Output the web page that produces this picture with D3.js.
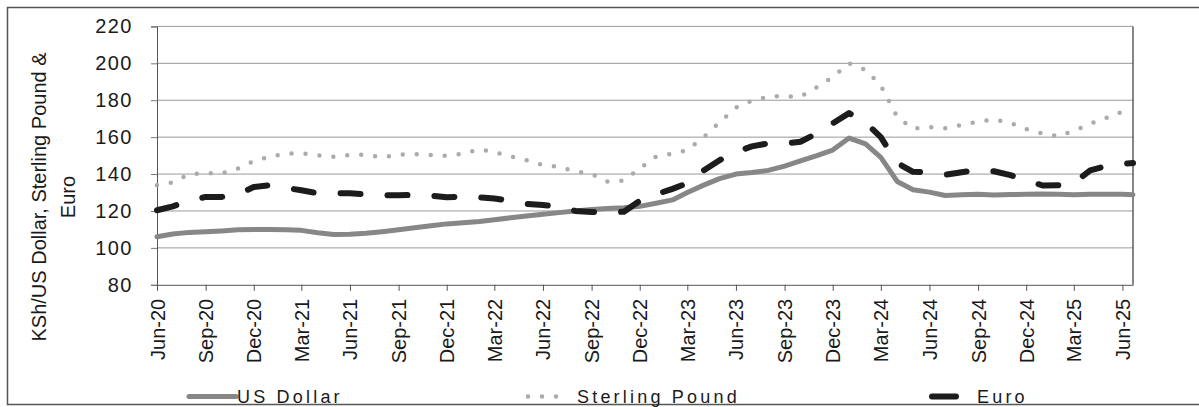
<!DOCTYPE html>
<html>
<head>
<meta charset="utf-8">
<script src="https://cdn.jsdelivr.net/npm/d3@7"></script>
<style>
  body { margin: 0; background: #fff; }
  svg { display: block; font-family: "Liberation Sans", Arial, sans-serif; }
</style>
</head>
<body>
<svg id="chart"></svg>
<script>
// monthly values, Jun-20 .. Jun-25, plus the last reading at the right edge
var usDollar = [106, 107.5, 108.4, 108.8, 109.2, 109.8, 110, 110, 109.8, 109.5,
  108.2, 107.3, 107.4, 107.9, 108.8, 109.8, 110.9, 112, 113, 113.6,
  114.3, 115.3, 116.3, 117.3, 118.2, 119.1, 120, 120.8, 121.3, 121.8,
  122.5, 124.2, 126, 130, 134, 137.5, 140, 140.8, 142, 144.3,
  147.2, 150, 153, 159.5, 156.3, 149, 136, 131.5, 130.2, 128.4,
  128.8, 129, 128.7, 128.9, 129, 129.2, 129, 128.8, 129.1, 129, 129, 128.8];

var sterling = [134, 135.5, 140, 140.5, 140.4, 143, 147, 149.5, 151, 151.3,
  150.2, 149.3, 150.4, 150.5, 149, 150.5, 150.8, 150.3, 149.9, 151,
  153.4, 152, 149.5, 147.5, 144.8, 144, 141.5, 140, 136, 136.5,
  143, 149.5, 151, 153, 160, 168, 176, 179.7, 182, 182.2,
  181.9, 187, 192.5, 200, 196.5, 188, 171, 164.5, 165.5, 164.8,
  166.6, 168.3, 169.6, 167.7, 164.3, 162, 160.5, 163.5, 167.2, 170.4, 173.8, 175];

var euro = [120.4, 122.5, 125.5, 127.6, 127.6, 129, 133, 134, 132.5, 131.2,
  129.6, 129.6, 129.6, 129, 128.5, 128.5, 128.7, 128.3, 127.4, 127.8,
  127.4, 126.8, 125.5, 123.8, 123.2, 122.5, 120, 119.5, 119.3, 119.6,
  125.5, 129, 132, 135, 142, 147.5, 152, 155, 156.6, 156.6,
  157.5, 162, 167.5, 173, 168, 160, 146, 141.2, 141, 139.6,
  141, 142.4, 141.5, 139.4, 136.6, 133.8, 134, 135.2, 142, 144.3, 145.5, 146];

var yTicks = [80, 100, 120, 140, 160, 180, 200, 220];

var dates = d3.timeMonth.range(new Date(2020, 5, 1), new Date(2025, 6, 1));
var tickDates = dates.filter((d, i) => i % 3 === 0);
dates.push(new Date(2025, 5, 21));

var series = [
  {name: "US Dollar", values: usDollar},
  {name: "Sterling Pound", values: sterling},
  {name: "Euro", values: euro}
];

var width = 1199, height = 407;
var plotLeft = 157, plotRight = 1133, plotTop = 26.4, plotBottom = 284.8;

var svg = d3.select("#chart").attr("width", width).attr("height", height);

var xScale = d3.scaleTime()
    .domain([dates[0], dates[dates.length - 1]])
    .range([plotLeft, plotRight]);

var yScale = d3.scaleLinear()
    .domain([80, 220])
    .range([plotBottom, plotTop]);

// outer frame
svg.append("rect")
    .attr("x", 7.5).attr("y", 7.5)
    .attr("width", 1200).attr("height", 397)
    .attr("fill", "none")
    .attr("stroke", "#555")
    .attr("stroke-width", 1.5);

// gridlines
svg.append("g")
    .selectAll("line")
    .data(yTicks.slice(1))
    .enter().append("line")
    .attr("x1", plotLeft).attr("x2", plotRight)
    .attr("y1", d => yScale(d)).attr("y2", d => yScale(d))
    .attr("stroke", "#999")
    .attr("stroke-width", 1);

// right border of plot
svg.append("line")
    .attr("x1", plotRight).attr("x2", plotRight)
    .attr("y1", plotTop).attr("y2", plotBottom)
    .attr("stroke", "#444").attr("stroke-width", 1.3);

// y axis
var yAxis = d3.axisLeft(yScale).tickValues(yTicks).tickSize(6).tickPadding(18);
var gy = svg.append("g")
    .attr("transform", `translate(${plotLeft},0)`)
    .call(yAxis);
gy.select(".domain").attr("stroke", "#555");
gy.selectAll(".tick line").attr("stroke", "#777");
gy.selectAll("text")
    .attr("fill", "#1a1a1a")
    .style("font-size", "20px")
    .style("letter-spacing", "1.5px");

// x axis
var xAxis = d3.axisBottom(xScale)
    .tickValues(tickDates)
    .tickFormat(d3.timeFormat("%b-%y"))
    .tickSize(6)
    .tickSizeOuter(0);
var gx = svg.append("g")
    .attr("transform", `translate(0,${plotBottom})`)
    .call(xAxis);
gx.select(".domain").attr("stroke", "#555");
gx.selectAll(".tick line").attr("stroke", "#555");
gx.selectAll("text")
    .attr("fill", "#1a1a1a")
    .style("font-size", "20px")
    .attr("transform", "rotate(-90)")
    .attr("text-anchor", "end")
    .attr("x", -14)
    .attr("y", 0)
    .attr("dy", "0.35em");

// y axis title
var yTitle = svg.append("text")
    .attr("transform", "translate(0,197) rotate(-90)")
    .attr("text-anchor", "middle")
    .attr("fill", "#1a1a1a")
    .style("font-size", "20px");
yTitle.append("tspan").attr("x", 0).attr("y", 46).text("KSh/US Dollar, Sterling Pound &");
yTitle.append("tspan").attr("x", 0).attr("y", 75).text("Euro");

// lines
var line = d3.line()
    .x((d, i) => xScale(dates[i]))
    .y(d => yScale(d));

var styles = {
  "US Dollar": {stroke: "#878787", width: 5, dash: null},
  "Sterling Pound": {stroke: "#ababab", width: 4.5, dash: "0 14"},
  "Euro": {stroke: "#1c1c1c", width: 6, dash: "20 27"}
};

svg.append("g")
    .selectAll("path")
    .data(series)
    .enter().append("path")
    .attr("d", d => line(d.values))
    .attr("fill", "none")
    .attr("stroke", d => styles[d.name].stroke)
    .attr("stroke-width", d => styles[d.name].width)
    .attr("stroke-dasharray", d => styles[d.name].dash)
    .attr("stroke-linecap", "round")
    .attr("stroke-linejoin", "round");

// legend
var legendItems = [
  {name: "US Dollar", x1: 189, x2: 236, tx: 237},
  {name: "Sterling Pound", x1: 528, x2: 562, tx: 577},
  {name: "Euro", x1: 932, x2: 956, tx: 977}
];

var legend = svg.append("g");
legend.selectAll("line")
    .data(legendItems)
    .enter().append("line")
    .attr("x1", d => d.x1).attr("x2", d => d.x2)
    .attr("y1", 396.5).attr("y2", 396.5)
    .attr("stroke", d => styles[d.name].stroke)
    .attr("stroke-width", d => styles[d.name].width)
    .attr("stroke-dasharray", d => d.name === "Sterling Pound" ? "0 14" : null)
    .attr("stroke-linecap", "round");

legend.selectAll("text")
    .data(legendItems)
    .enter().append("text")
    .attr("x", d => d.tx)
    .attr("y", 402.5)
    .attr("fill", "#1a1a1a")
    .style("font-size", "18px")
    .style("letter-spacing", "3.2px")
    .text(d => d.name);
</script>
</body>
</html>
